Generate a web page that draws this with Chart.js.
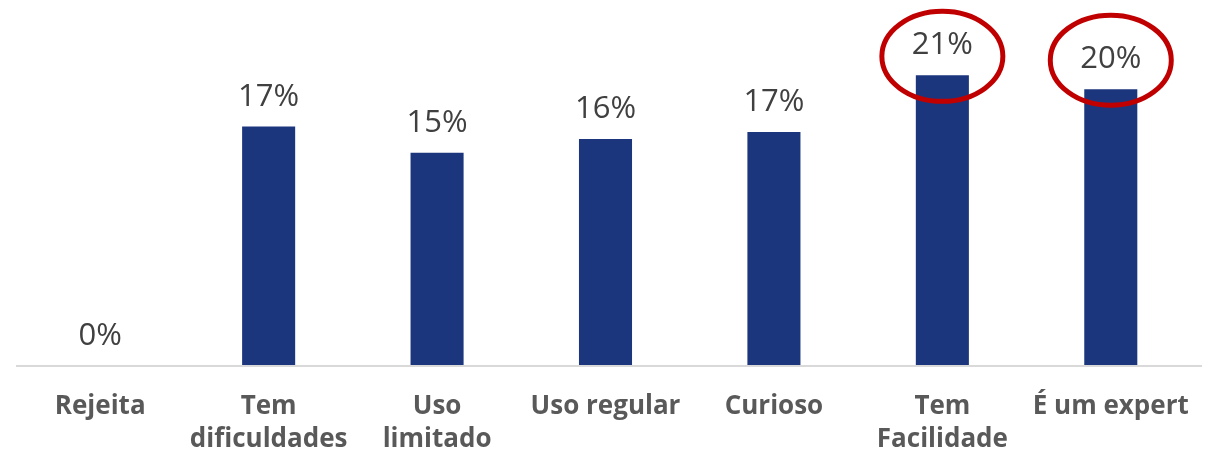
<!DOCTYPE html>
<html>
<head>
<meta charset="utf-8">
<script src="https://cdn.jsdelivr.net/npm/chart.js@4/dist/chart.umd.min.js"></script>
<style>
  html, body { margin: 0; padding: 0; background: #ffffff; }
  #wrap { width: 1216px; height: 453px; }
</style>
</head>
<body>
<div id="wrap"><canvas id="barCanvas" role="img" aria-label="chart"></canvas></div>
<script>
// DATA ---------------------------------------
let categorias = [
  'Rejeita',
  ['Tem', 'dificuldades'],
  ['Uso', 'limitado'],
  'Uso regular',
  'Curioso',
  ['Tem', 'Facilidade'],
  'É um expert'
];
let valores = [0, 17.3, 15.4, 16.4, 16.9, 21.0, 20.0];
// categories circled in red (index + vertical offset from bar top)
let destaques = [5, 6];
let destaquesDy = [-19, -29];

// value labels above bars
let valueLabels = {
  id: 'valueLabels',
  afterDatasetsDraw(chart) {
    let ctx = chart.ctx;
    let meta = chart.getDatasetMeta(0);
    ctx.save();
    ctx.font = '31px "Open Sans"';
    ctx.fillStyle = '#404040';
    ctx.textAlign = 'center';
    ctx.textBaseline = 'alphabetic';
    meta.data.forEach((bar, i) => {
      ctx.fillText(Math.round(valores[i]) + '%', bar.x, bar.y - 21);
    });
    ctx.restore();
  }
};

// axis line (a bit wider than the plot) + red ellipses
let decor = {
  id: 'decor',
  afterDraw(chart) {
    let ctx = chart.ctx;
    let meta = chart.getDatasetMeta(0);
    let y0 = chart.chartArea.bottom;
    ctx.save();
    ctx.strokeStyle = '#d9d9d9';
    ctx.lineWidth = 2;
    ctx.beginPath();
    ctx.moveTo(16, y0);
    ctx.lineTo(1202, y0);
    ctx.stroke();

    ctx.strokeStyle = '#c00000';
    ctx.lineWidth = 5;
    destaques.forEach((idx, j) => {
      let bar = meta.data[idx];
      ctx.beginPath();
      ctx.ellipse(bar.x, bar.y + destaquesDy[j], 60.5, 45, 0, 0, Math.PI * 2);
      ctx.stroke();
    });
    ctx.restore();
  }
};

let barCanvas = document.getElementById('barCanvas');
let grafico = new Chart(barCanvas, {
  type: 'bar',
  data: {
    labels: categorias,
    datasets: [{
      data: valores,
      backgroundColor: '#1c367d',
      barPercentage: 0.315,
      categoryPercentage: 1
    }]
  },
  options: {
    responsive: true,
    maintainAspectRatio: false,
    animation: false,
    layout: {
      padding: { top: 20, left: 16, right: 21, bottom: 0 }
    },
    plugins: {
      legend: { display: false },
      tooltip: { enabled: false }
    },
    scales: {
      y: {
        display: false,
        min: 0,
        max: 25
      },
      x: {
        grid: { display: false, drawTicks: false },
        border: { display: false },
        afterFit: (scale) => { scale.height = 87; },
        ticks: {
          color: '#595959',
          padding: 24,
          maxRotation: 0,
          autoSkip: false,
          font: { family: '"Open Sans"', size: 26, weight: 'bold', lineHeight: 1.27 }
        }
      }
    }
  },
  plugins: [valueLabels, decor]
});
</script>
</body>
</html>
